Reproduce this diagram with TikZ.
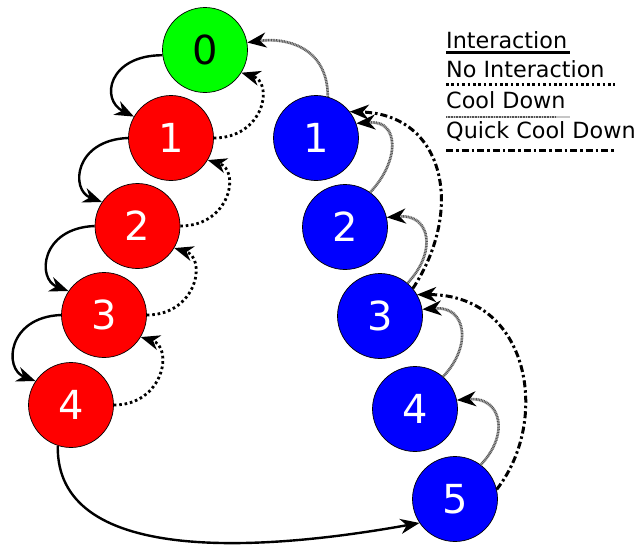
\documentclass[tikz,border=0pt]{standalone}
\usepackage{fontspec}
\setmainfont{DejaVu Sans}
\usetikzlibrary{arrows.meta}
\begin{document}
\begin{tikzpicture}[x=1pt,y=-1pt,
  state/.style={circle, draw=black, line width=0.7pt, minimum size=85pt, inner sep=0pt, font=\fontsize{40}{48}\selectfont},
  redst/.style={state, fill=red, text=white},
  bluest/.style={state, fill=blue, text=white},
  greenst/.style={state, fill=green, text=black},
  tip/.style={-{Stealth[length=19pt,width=15pt,inset=6pt,color=black,fill=black]}},
  interline/.style={line width=2.4pt},
  nointerline/.style={line width=2.8pt, dash pattern=on 2.6pt off 2.8pt},
  coolline/.style={draw=gray!45, line width=2.6pt, postaction={draw=gray!65!black, line width=2.6pt, arrows=-, shorten >=14pt, dash pattern=on 0.8pt off 0.8pt}},
  quickline/.style={line width=3pt, dash pattern=on 7pt off 3pt on 2.5pt off 3pt},
  inter/.style={interline, tip},
  nointer/.style={nointerline, tip},
  cool/.style={coolline, tip},
  quick/.style={quickline, tip},
  legtext/.style={anchor=base west, inner sep=0pt, font=\fontsize{22.3}{27}\selectfont}
]
\useasboundingbox (0,0) rectangle (636,546);

% states
\node[greenst] (n0) at (205,50) {0};
\node[redst] (r1) at (171,138) {1};
\node[redst] (r2) at (137.5,226) {2};
\node[redst] (r3) at (104,315) {3};
\node[redst] (r4) at (71,405) {4};
\node[bluest] (b1) at (316,138) {1};
\node[bluest] (b2) at (345,227) {2};
\node[bluest] (b3) at (380,316) {3};
\node[bluest] (b4) at (415,409) {4};
\node[bluest] (b5) at (455,499) {5};

% interaction
\draw[inter] (n0.187) .. controls +(-54,0) and +(-34,-17) .. (r1.150);
\draw[inter] (r1.180) .. controls +(-54,2) and +(-32,-12) .. (r2.146);
\draw[inter] (r2.180) .. controls +(-54,2) and +(-32,-12) .. (r3.146);
\draw[inter] (r3.180) .. controls +(-54,2) and +(-32,-12) .. (r4.146);
\draw[inter] (r4.252) .. controls +(-2,117) and +(-167,30) .. (b5.214);

% no interaction
\draw[nointer] (r1.0) .. controls +(50,0) and +(33,10) .. (n0.328);
\draw[nointer] (r2.0) .. controls +(50,0) and +(33,10) .. (r1.329);
\draw[nointer] (r3.0) .. controls +(50,0) and +(33,10) .. (r2.329);
\draw[nointer] (r4.0) .. controls +(50,0) and +(33,10) .. (r3.329);

% cool down
\draw[cool] (b1.74) .. controls +(0,-51) and +(37,-5) .. (n0.10);
\draw[cool] (b2.54) .. controls +(30,-32) and +(43,-3) .. (b1.20);
\draw[cool] (b3.50) .. controls +(30,-32) and +(43,-3) .. (b2.13);
\draw[cool] (b4.49) .. controls +(30,-32) and +(43,-3) .. (b3.9);
\draw[cool] (b5.53) .. controls +(30,-32) and +(43,-3) .. (b4.12);

% quick cool down
\draw[quick] (b3.40) .. controls +(52,-79) and +(95,3) .. (b1.38);
\draw[quick] (b5.13) .. controls +(54,-69) and +(113,0) .. (b3.30);

% legend
\node[legtext] (l1) at (446,48) {Interaction};
\coordinate (l1a) at (446,52.5); \coordinate (l1b) at (570,52.5);
\draw[interline, line width=3pt] (l1a) -- (l1b);
\node[legtext] (l2) at (446,77) {No Interaction};
\coordinate (l2a) at (446,84.5); \coordinate (l2b) at (615,84.5);
\draw[nointerline] (l2a) -- (l2b);
\node[legtext] (l3) at (446,108) {Cool Down};
\coordinate (l3a) at (446,117); \coordinate (l3b) at (570,117);
\draw[coolline] (l3a) -- (l3b);
\node[legtext] (l4) at (446,138) {Quick Cool Down};
\coordinate (l4a) at (446,150); \coordinate (l4b) at (615,150);
\draw[quickline] (l4a) -- (l4b);
\end{tikzpicture}
\end{document}
